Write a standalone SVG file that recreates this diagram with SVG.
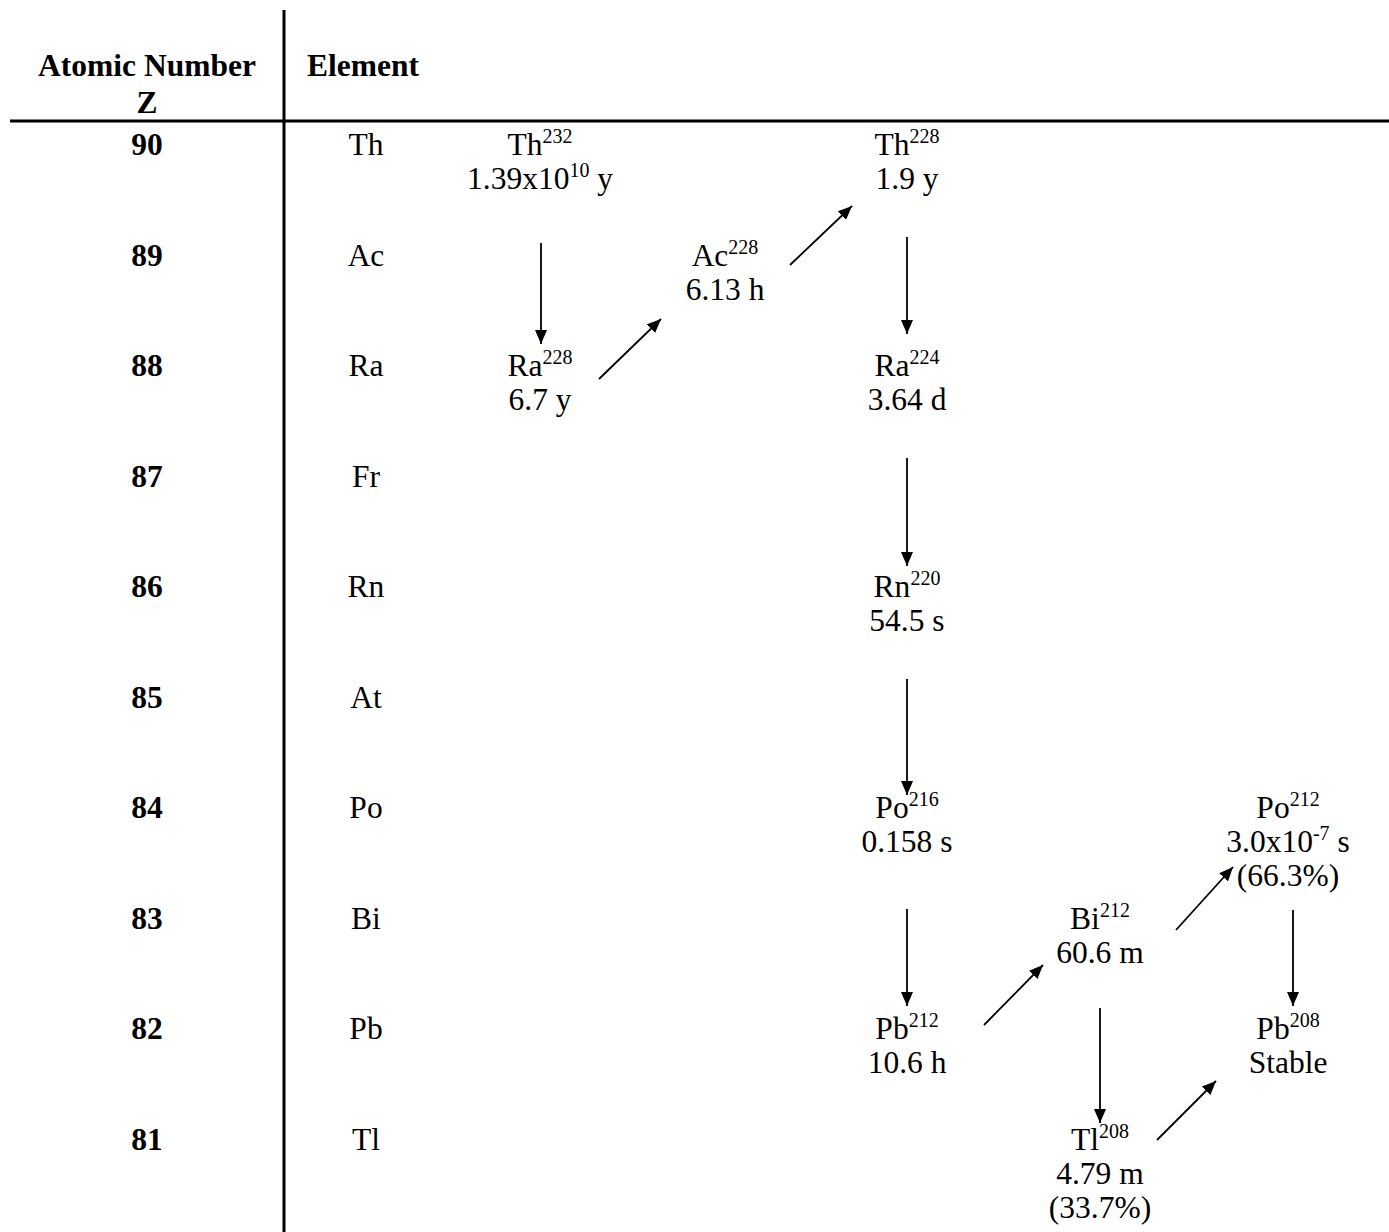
<svg xmlns="http://www.w3.org/2000/svg" width="1389" height="1232" viewBox="0 0 1389 1232">
<style>
text{font-family:'Liberation Serif','DejaVu Serif',serif;font-size:31.5px;fill:#000;text-anchor:middle}
.b{font-weight:bold}
.s{font-size:20px}
.ar{stroke:#000;stroke-width:1.8;fill:none;marker-end:url(#ah)}
</style>
<defs>
<marker id="ah" viewBox="0 0 14 12" refX="14" refY="6" markerWidth="14" markerHeight="12" markerUnits="userSpaceOnUse" orient="auto">
<path d="M0,0 L14,6 L0,12 Z" fill="#000"/>
</marker>
</defs>
<rect width="1389" height="1232" fill="#fff"/>
<g id="table">
<line x1="284" y1="10" x2="284" y2="1232" stroke="#000" stroke-width="3"/>
<line x1="10" y1="121" x2="1389" y2="121" stroke="#000" stroke-width="3"/>
<text class="b" x="147" y="76">Atomic Number</text>
<text class="b" x="147" y="113">Z</text>
<text class="b" x="307" y="76" style="text-anchor:start">Element</text>
<text class="b" x="147" y="155">90</text><text x="366" y="155">Th</text>
<text class="b" x="147" y="266">89</text><text x="366" y="266">Ac</text>
<text class="b" x="147" y="376">88</text><text x="366" y="376">Ra</text>
<text class="b" x="147" y="487">87</text><text x="366" y="487">Fr</text>
<text class="b" x="147" y="597">86</text><text x="366" y="597">Rn</text>
<text class="b" x="147" y="708">85</text><text x="366" y="708">At</text>
<text class="b" x="147" y="818">84</text><text x="366" y="818">Po</text>
<text class="b" x="147" y="929">83</text><text x="366" y="929">Bi</text>
<text class="b" x="147" y="1039">82</text><text x="366" y="1039">Pb</text>
<text class="b" x="147" y="1150">81</text><text x="366" y="1150">Tl</text>
</g>
<g id="th232"><text x="540" y="155">Th<tspan class="s" dy="-12">232</tspan></text><text x="540" y="189">1.39x10<tspan class="s" dy="-12">10</tspan><tspan dy="12"> y</tspan></text></g>
<g id="ra228"><text x="540" y="376">Ra<tspan class="s" dy="-12">228</tspan></text><text x="540" y="410">6.7 y</text></g>
<g id="ac228"><text x="725" y="266">Ac<tspan class="s" dy="-12">228</tspan></text><text x="725" y="300">6.13 h</text></g>
<g id="th228"><text x="907" y="155">Th<tspan class="s" dy="-12">228</tspan></text><text x="907" y="189">1.9 y</text></g>
<g id="ra224"><text x="907" y="376">Ra<tspan class="s" dy="-12">224</tspan></text><text x="907" y="410">3.64 d</text></g>
<g id="rn220"><text x="907" y="597">Rn<tspan class="s" dy="-12">220</tspan></text><text x="907" y="631">54.5 s</text></g>
<g id="po216"><text x="907" y="818">Po<tspan class="s" dy="-12">216</tspan></text><text x="907" y="852">0.158 s</text></g>
<g id="pb212"><text x="907" y="1039">Pb<tspan class="s" dy="-12">212</tspan></text><text x="907" y="1073">10.6 h</text></g>
<g id="bi212"><text x="1100" y="929">Bi<tspan class="s" dy="-12">212</tspan></text><text x="1100" y="963">60.6 m</text></g>
<g id="po212"><text x="1288" y="818">Po<tspan class="s" dy="-12">212</tspan></text><text x="1288" y="852">3.0x10<tspan class="s" dy="-12">-7</tspan><tspan dy="12"> s</tspan></text><text x="1288" y="886">(66.3%)</text></g>
<g id="pb208"><text x="1288" y="1039">Pb<tspan class="s" dy="-12">208</tspan></text><text x="1288" y="1073">Stable</text></g>
<g id="tl208"><text x="1100" y="1150">Tl<tspan class="s" dy="-12">208</tspan></text><text x="1100" y="1184">4.79 m</text><text x="1100" y="1218">(33.7%)</text></g>
<g id="connectors">
<line class="ar" x1="541" y1="243" x2="541" y2="344"/>
<line class="ar" x1="599" y1="379" x2="661" y2="319"/>
<line class="ar" x1="790" y1="265" x2="852" y2="206"/>
<line class="ar" x1="907" y1="237" x2="907" y2="334"/>
<line class="ar" x1="907" y1="458" x2="907" y2="566"/>
<line class="ar" x1="907" y1="679" x2="907" y2="795"/>
<line class="ar" x1="907" y1="909" x2="907" y2="1006"/>
<line class="ar" x1="984" y1="1025" x2="1043" y2="965"/>
<line class="ar" x1="1176" y1="930" x2="1233" y2="867"/>
<line class="ar" x1="1293" y1="910" x2="1293" y2="1006"/>
<line class="ar" x1="1100" y1="1008" x2="1100" y2="1123"/>
<line class="ar" x1="1157" y1="1140" x2="1216" y2="1081"/>
</g>
</svg>
